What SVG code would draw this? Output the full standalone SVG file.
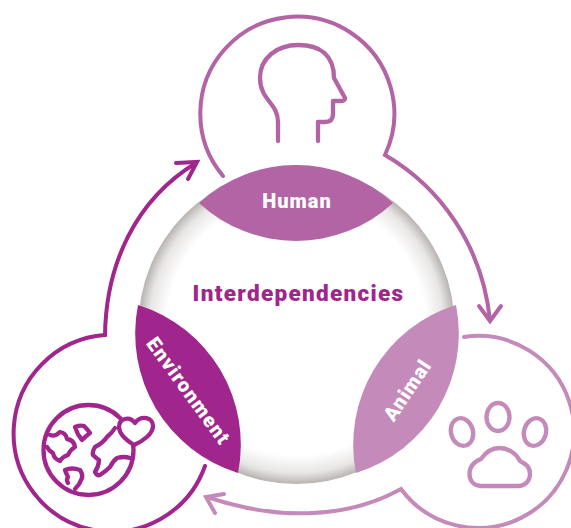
<svg xmlns="http://www.w3.org/2000/svg" width="571" height="528" viewBox="0 0 571 528">
<style>
.l{fill:none;stroke-width:4;stroke-linecap:round;stroke-linejoin:miter}
.i{stroke-linejoin:round;stroke-width:4.300px}
.h{stroke:#b264a4}.a{stroke:#c48ab9}.e{stroke:#a0258c}
.f{fill:#fff}
text{font-family:"Roboto","Liberation Sans",sans-serif;font-weight:900;text-anchor:middle}
.w{fill:#fff;font-size:20px;letter-spacing:1px}
</style>
<defs>
<radialGradient id="g" gradientUnits="userSpaceOnUse" cx="296.500" cy="326" r="158">
<stop offset="0" stop-color="#fff"/><stop offset=".82" stop-color="#fff"/><stop offset=".93" stop-color="#e8e6e5"/><stop offset="1" stop-color="#b8b3b1"/>
</radialGradient>
</defs>
<g id="connectors">
<path class="l h" d="M223 176A97 97 0 1 1 385 155C440 187 482 245 490 320"/>
<path class="l h" d="M479 306L490 321L501 306"/>
<path class="l a" d="M464 337A96 96 0 1 1 401 489C345 520 275 520 207 497"/>
<path class="l a" d="M224 494L206 497L215 513"/>
<path class="l e" d="M205 466A98.500 98.500 0 1 1 105 335C106 265 135 200 196 163"/>
<path class="l e" d="M176 163L197 162L188 179"/>
</g>
<g id="center"><circle cx="296.500" cy="326" r="158" fill="url(#g)"/>
<text x="298.500" y="301" font-size="22.500" letter-spacing="1.300" fill="#a0258c">Interdependencies</text></g>
<g id="human">
<path fill="#b264a4" d="M199 203A143 143 0 0 1 393 203A143 143 0 0 1 199 203Z"/>
<text class="w" x="297" y="208">Human</text>
<path class="l h i" d="M278 141V122C278 103 260 100 260 78C260 58 277 45 298 45C320 45 334 55 334 78L345 98Q345 101 341 101H333V114Q333 122 325 122H318V141"/>
</g>
<g id="animal">
<path fill="#c48ab9" d="M456 305A146 146 0 0 1 356 473A146 146 0 0 1 456 305Z"/>
<text class="w" transform="translate(413 394) rotate(-56)">Animal</text>
<ellipse class="l a i" cx="498" cy="417" rx="11.500" ry="14"/>
<ellipse class="l a i" cx="462" cy="432" rx="11" ry="14" transform="rotate(-15 462 432)"/>
<ellipse class="l a i" cx="535" cy="432" rx="11" ry="14" transform="rotate(15 535 432)"/>
<path class="l a i" d="M481 486H518C526 486 530 480 530 474C530 467 526 464 520 461C516 453 508 448 499 448C491 448 486 452 481 459C473 462 469.500 467 469.500 474C469.500 481 474 486 481 486Z"/>
</g>
<g id="environment">
<path fill="#a0258c" d="M138 305A146 146 0 0 1 238 473A146 146 0 0 1 138 305Z"/>
<text class="w" transform="translate(183 395) rotate(54)" style="letter-spacing:1.200px">Environment</text>
<circle class="l e i" cx="88.500" cy="450" r="45"/>
<path class="l e i" d="M50 435Q55 437 60 432Q66 433 67 439Q74 440 75 447Q70 450 68 455Q62 457 60 461Q54 459 53 453Q49 451 47 447"/>
<path class="l e i" d="M75 427Q80 425 84 426Q88 430 90 433Q86 436 82 440Q77 434 75 427Z"/>
<path class="l e i" d="M115 428Q112 433 107 437Q103 443 95 447Q92 452 93 455Q96 458 99 460Q99 466 95 472Q97 476 100 475Q106 471 110 467Q113 461 117 458Q124 456 130 458"/>
<path class="l e i" d="M65 470Q72 467 80 470Q83 474 82 478Q80 484 75 489M68 483Q66 480 68 477Q66 473 65 470"/>
<path class="l e i f" d="M134 445C126 440 119 434 119 427C119 419 129 415 135 423C141 415 153 417 153 426C153 434 143 441 134 445Z"/>
</g>
</svg>
